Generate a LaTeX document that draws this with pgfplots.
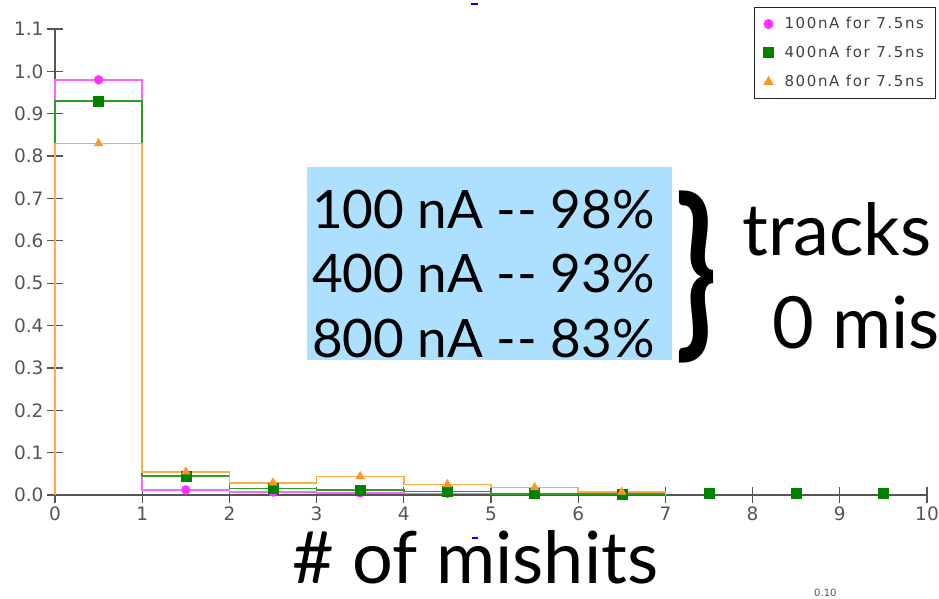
\documentclass[border=0pt]{standalone}
\usepackage{graphicx}
\usepackage{pgfplots}
\pgfplotsset{compat=1.18}
\usepackage{fontspec}
\setmainfont{Lato}
\newfontfamily\gill{Lato}
\newfontfamily\tickfont{DejaVu Sans}
\newfontfamily\legfont[LetterSpace=11]{DejaVu Sans}
\definecolor{magline}{RGB}{255,100,255}
\definecolor{magmark}{RGB}{255,50,255}
\definecolor{grnline}{RGB}{40,160,40}
\definecolor{grnmark}{RGB}{0,130,0}
\definecolor{orgline}{RGB}{255,172,70}
\definecolor{orgmark}{RGB}{255,150,40}
\definecolor{boxblue}{RGB}{173,223,255}
\definecolor{axgray}{RGB}{85,85,85}
\begin{document}
\begin{tikzpicture}[x=1pt,y=1pt]
\useasboundingbox (0,0) rectangle (939,598);
\clip (0,0) rectangle (939,598);
\begin{axis}[
  at={(55pt,103pt)}, anchor=south west,
  scale only axis, width=872pt, height=466pt,
  xmin=0, xmax=10, ymin=0, ymax=1.1,
  clip=false,
  axis x line=bottom, axis y line=left,
  axis line style={-, axgray, line width=1.3pt},
  xtick={0,1,2,3,4,5,6,7,8,9,10},
  xticklabels={0,1,2,3,4,5,6,7,8,9,10},
  ytick={0,0.1,0.2,0.3,0.4,0.5,0.6,0.7,0.8,0.9,1.0,1.1},
  yticklabels={0.0,0.1,0.2,0.3,0.4,0.5,0.6,0.7,0.8,0.9,1.0,1.1},
  tick align=center, major tick length=16pt,
  tick style={axgray, line width=1.3pt},
  ticklabel style={font=\tickfont\fontsize{18.5}{18.5}\selectfont, text=axgray},
  /pgf/number format/assume math mode=true,
  legend style={at={(axis description cs:0.8016,1.047)}, anchor=north west,
    draw=black!85, line width=1pt, fill=white,
    font=\legfont\fontsize{15}{15}\selectfont, text=black!75,
    inner xsep=9pt, inner ysep=8pt, row sep=12pt,
    /tikz/every odd column/.append style={column sep=9pt}},
  legend cell align=left,
]
% histogram outlines
\addplot[const plot, magline, line width=1.6pt, forget plot] coordinates {
 (0,0) (0,0.98) (1,0.012) (2,0.007) (3,0.005) (4,0.004) (5,0.002) (6,0.001) (7,0)};
\addplot[const plot, grnline, line width=1.6pt, forget plot] coordinates {
 (0,0) (0,0.93) (1,0.045) (2,0.015) (3,0.012) (4,0.008) (5,0.003) (6,0.002) (7,0)};
\addplot[const plot, orgline, line width=1.6pt, forget plot] coordinates {
 (0,0) (0,0.83) (1,0.055) (2,0.029) (3,0.044) (4,0.025) (5,0.018) (6,0.007) (7,0)};
% markers
\addplot[only marks, mark=*, mark size=4.5pt, magmark] coordinates {
 (0.5,0.98) (1.5,0.012) (2.5,0.007) (3.5,0.005) (4.5,0.004) (5.5,0.002) (6.5,0.001)};
\addlegendentry{100nA for 7.5ns}
\addplot[only marks, mark=square*, mark size=5pt, grnmark] coordinates {
 (0.5,0.93) (1.5,0.045) (2.5,0.015) (3.5,0.012) (4.5,0.008) (5.5,0.004) (6.5,0.003) (7.5,0.004) (8.5,0.004) (9.5,0.004)};
\addlegendentry{400nA for 7.5ns}
\addplot[only marks, mark=triangle*, mark size=5pt, orgmark] coordinates {
 (0.5,0.83) (1.5,0.055) (2.5,0.029) (3.5,0.044) (4.5,0.025) (5.5,0.018) (6.5,0.007)};
\addlegendentry{800nA for 7.5ns}
\end{axis}
% annotation box
\fill[boxblue] (307,238) rectangle (672,431);
\node[anchor=base east, inner sep=0, font=\gill\fontsize{53}{53}\selectfont] at (655,370) {100 nA -\kern1pt- 98\%};
\node[anchor=base east, inner sep=0, font=\gill\fontsize{53}{53}\selectfont] at (655,306) {400 nA -\kern1pt- 93\%};
\node[anchor=base east, inner sep=0, font=\gill\fontsize{53}{53}\selectfont] at (655,241) {800 nA -\kern1pt- 83\%};
\node[inner sep=0] at (696,321) {\resizebox*{42pt}{172pt}{\gill\bfseries\}}};
\node[anchor=base west, inner sep=0, font=\gill\fontsize{72}{72}\selectfont] at (742,343) {tracks};
\node[anchor=base west, inner sep=0, font=\gill\fontsize{72}{72}\selectfont] at (772,250) {0 mis};
\node[anchor=base west, inner sep=0, font=\gill\fontsize{72}{72}\selectfont] at (292,15) {\# of mishits};
% small stray marks of the screenshot
\draw[blue, line width=1.5pt] (471,594) -- (478,594);
\draw[blue, line width=1.5pt] (472,60) -- (478,60);
\node[anchor=south west, inner sep=0, text=axgray, font=\tickfont\fontsize{10}{10}\selectfont] at (814,1) {0.10};
\end{tikzpicture}
\end{document}
